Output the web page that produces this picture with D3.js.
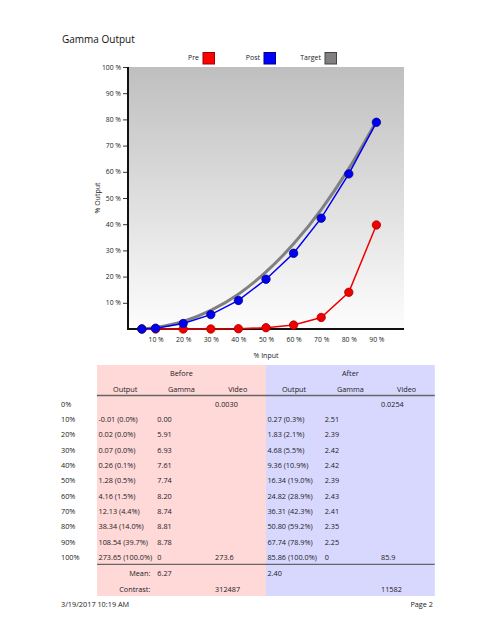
<!DOCTYPE html>
<html><head><meta charset="utf-8">
<script src="https://cdn.jsdelivr.net/npm/d3@7"></script>
<style>
html,body{margin:0;padding:0;background:#fff;}
svg{display:block;font-family:"Open Sans","Noto Sans",sans-serif;}
</style></head>
<body>
<svg id="c" width="494" height="640"></svg>
<script>
// ---------- chart data ----------
const inputLevels = [5, 10, 20, 30, 40, 50, 60, 70, 80, 90];
const preValues  = [0, 0.0, 0.0, 0.0, 0.1, 0.5, 1.5, 4.4, 14.0, 39.7];
const postValues = [0, 0.3, 2.1, 5.5, 10.9, 19.0, 28.9, 42.3, 59.2, 78.9];
const targetValues = [0, 0.6, 2.9, 7.1, 13.3, 21.8, 32.5, 45.6, 61.2, 79.3];
const yTicks = [10, 20, 30, 40, 50, 60, 70, 80, 90, 100];
const xTicks = [10, 20, 30, 40, 50, 60, 70, 80, 90];
const legendNames = ["Pre", "Post", "Target"];

// ---------- table data ----------
const rowLabels = ["0%","10%","20%","30%","40%","50%","60%","70%","80%","90%","100%"];
const colHeaders = ["Output","Gamma","Video"];
const beforeOutput = ["","-0.01 (0.0%)","0.02 (0.0%)","0.07 (0.0%)","0.26 (0.1%)","1.28 (0.5%)","4.16 (1.5%)","12.13 (4.4%)","38.34 (14.0%)","108.54 (39.7%)","273.65 (100.0%)"];
const beforeGamma = ["","0.00","5.91","6.93","7.61","7.74","8.20","8.74","8.81","8.78","0"];
const beforeVideo = ["0.0030","","","","","","","","","","273.6"];
const afterOutput = ["","0.27 (0.3%)","1.83 (2.1%)","4.68 (5.5%)","9.36 (10.9%)","16.34 (19.0%)","24.82 (28.9%)","36.31 (42.3%)","50.80 (59.2%)","67.74 (78.9%)","85.86 (100.0%)"];
const afterGamma = ["","2.51","2.39","2.42","2.42","2.39","2.43","2.41","2.35","2.25","0"];
const afterVideo = ["0.0254","","","","","","","","","","85.9"];
const meanValues = ["6.27","2.40"];
const contrastValues = ["312487","11582"];

const svg = d3.select("#c");
const txt = "#222";

// title
svg.append("text").attr("x",62).attr("y",43).attr("font-size",10).attr("fill","#111").text("Gamma Output");

// legend
const legColors = [["#ff0000","#a00000"],["#0000ff","#000080"],["#808080","#444"]];
const legX = [199, 260, 321];
legendNames.forEach((n,i)=>{
  svg.append("text").attr("x",legX[i]).attr("y",58).attr("dy","0.35em").attr("text-anchor","end")
    .attr("font-size",7).attr("fill",txt).text(n);
  svg.append("rect").attr("x",legX[i]+4).attr("y",52.5).attr("width",11.5).attr("height",11.5)
    .attr("fill",legColors[i][0]).attr("stroke",legColors[i][1]).attr("stroke-width",1);
});

// plot
const L=128, R=404, T=67, B=329;
const x = d3.scaleLinear().domain([0,100]).range([L,R]);
const y = d3.scaleLinear().domain([0,100]).range([B,T]);

const defs = svg.append("defs");
const grad = defs.append("linearGradient").attr("id","bg").attr("x1",0).attr("y1",0).attr("x2",0).attr("y2",1);
grad.append("stop").attr("offset","0%").attr("stop-color","#bfbfbf");
grad.append("stop").attr("offset","100%").attr("stop-color","#fdfdfd");
svg.append("rect").attr("x",L).attr("y",T).attr("width",R-L).attr("height",B-T).attr("fill","url(#bg)");

// y axis
const yAxis = svg.append("g").attr("transform",`translate(${L},0)`)
  .call(d3.axisLeft(y).tickValues(yTicks).tickSize(5).tickPadding(2).tickFormat(d=>d+" %"));
yAxis.select(".domain").remove();
yAxis.selectAll("text").attr("font-size",6.8).attr("fill",txt).attr("font-family","Open Sans, sans-serif");
yAxis.selectAll("line").attr("stroke","#333");

// x axis labels
const xAxis = svg.append("g").attr("transform",`translate(0,${B})`)
  .call(d3.axisBottom(x).tickValues(xTicks).tickSize(0).tickPadding(8).tickFormat(d=>d+" %"));
xAxis.select(".domain").remove();
xAxis.selectAll("text").attr("font-size",6.8).attr("fill",txt).attr("font-family","Open Sans, sans-serif");

// axis lines
svg.append("line").attr("x1",L).attr("x2",L).attr("y1",T).attr("y2",B+1).attr("stroke","#111").attr("stroke-width",2);
svg.append("line").attr("x1",L-1).attr("x2",R).attr("y1",B).attr("y2",B).attr("stroke","#111").attr("stroke-width",2);

// axis titles
svg.append("text").attr("transform",`translate(98,${(T+B)/2}) rotate(-90)`).attr("text-anchor","middle")
  .attr("dy","0.35em").attr("font-size",7).attr("fill",txt).text("% Output");
svg.append("text").attr("x",(L+R)/2).attr("y",356).attr("dy","0.35em").attr("text-anchor","middle")
  .attr("font-size",7).attr("fill",txt).text("% Input");

// lines
const line = d3.line().x((d,i)=>x(inputLevels[i])).y(d=>y(d));
const curveLine = d3.line().x((d,i)=>x(inputLevels[i])).y(d=>y(d)).curve(d3.curveMonotoneX);
svg.append("path").datum(targetValues).attr("d",curveLine).attr("fill","none").attr("stroke","#808080").attr("stroke-width",3);

function series(vals, col, dark){
  svg.append("path").datum(vals).attr("d",line).attr("fill","none").attr("stroke",col).attr("stroke-width",1.5);
  svg.append("g").selectAll("circle").data(vals).join("circle")
    .attr("cx",(d,i)=>x(inputLevels[i])).attr("cy",d=>y(d)).attr("r",4.2)
    .attr("fill",col).attr("stroke",dark).attr("stroke-width",0.8);
}
series(preValues,"#ee0000","#b00000");
series(postValues,"#0000ee","#000090");

// ---------- table ----------
const tX0 = 97, colW = 56.3, blockW = colW*3;
const befX = tX0, aftX = tX0 + blockW;
const tTop = 365, tBot = 596;
svg.append("rect").attr("x",befX).attr("y",tTop).attr("width",blockW).attr("height",tBot-tTop).attr("fill","#ffd8d8");
svg.append("rect").attr("x",aftX).attr("y",tTop).attr("width",blockW).attr("height",tBot-tTop).attr("fill","#d8d8ff");

const fs = 7.3;
function t(xp, yp, s, anchor){
  svg.append("text").attr("x",xp).attr("y",yp).attr("dy","0.35em").attr("text-anchor",anchor||"start")
    .attr("font-size",fs).attr("fill",txt).text(s);
}
t(befX+blockW/2, 373, "Before", "middle");
t(aftX+blockW/2, 373, "After", "middle");
colHeaders.forEach((h,i)=>{
  t(befX+colW*i+colW/2, 389, h, "middle");
  t(aftX+colW*i+colW/2, 389, h, "middle");
});
svg.append("line").attr("x1",tX0).attr("x2",aftX+blockW).attr("y1",395.5).attr("y2",395.5).attr("stroke","#666").attr("stroke-width",1.3);

const rowY0 = 404.3, rowH = 15.3;
const cols = [beforeOutput, beforeGamma, beforeVideo, afterOutput, afterGamma, afterVideo];
const colX = [befX+1.5, befX+colW+4, befX+2*colW+5.5, aftX+1.5, aftX+colW+2.5, aftX+2*colW+2.5];
rowLabels.forEach((r,i)=>{
  const yy = rowY0 + i*rowH;
  t(61, yy, r);
  cols.forEach((c,j)=>{ if(c[i]) t(colX[j], yy, c[i]); });
});
const yLine2 = rowY0 + 10*rowH + 7;
svg.append("line").attr("x1",tX0).attr("x2",aftX+blockW).attr("y1",yLine2).attr("y2",yLine2).attr("stroke","#666").attr("stroke-width",1.3);
t(befX+colW-3, 573, "Mean:", "end");
t(colX[1], 573, meanValues[0]);
t(colX[3], 573, meanValues[1]);
t(befX+colW-3, 589, "Contrast:", "end");
t(colX[2], 589, contrastValues[0]);
t(colX[5], 589, contrastValues[1]);

// footer
t(61, 604, "3/19/2017 10:19 AM");
t(433, 604, "Page 2", "end");
</script>
</body></html>
